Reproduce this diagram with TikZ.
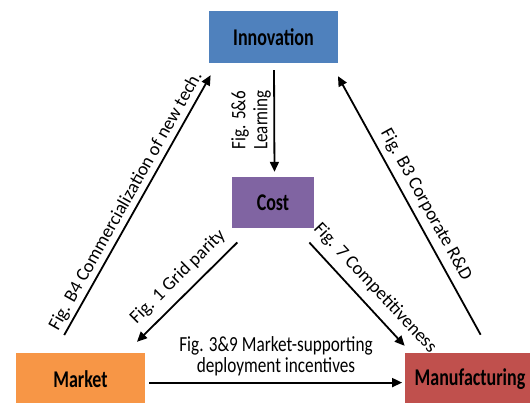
\documentclass[tikz,border=0pt]{standalone}
\usepackage{fontspec}
\usepackage{graphicx}
\setmainfont{Carlito}
\usetikzlibrary{arrows.meta}
\definecolor{innblue}{HTML}{4F81BD}
\definecolor{costpurple}{HTML}{8064A2}
\definecolor{mktorange}{HTML}{F79646}
\definecolor{mfgred}{HTML}{C0504D}
\newcommand{\boxtxt}[1]{\scalebox{0.75}[1]{\bfseries\fontsize{24}{26}\selectfont #1}}
\newcommand{\lbltxt}[1]{\scalebox{0.8}[1]{\fontsize{21.5}{21}\selectfont\begin{tabular}{@{}c@{}}#1\end{tabular}}}
\newcommand{\vlbltxt}[1]{\scalebox{0.83}[1]{\fontsize{20.5}{22}\selectfont\begin{tabular}{@{}c@{}}#1\end{tabular}}}
\newcommand{\dlbltxt}[1]{{\fontsize{18.6}{20}\selectfont #1}}
\begin{document}
\begin{tikzpicture}[x=1pt,y=-1pt,
  box/.style={draw=none, inner sep=0pt, text=black},
  lbl/.style={inner sep=0pt, text=black},
  arr/.style={line width=1.8pt, -{Triangle[length=10pt,width=9pt]}}]
\useasboundingbox (0,0) rectangle (530,403);
\clip (0,0) rectangle (530,403);

\node[box, fill=innblue, minimum width=129pt, minimum height=52pt] (inn) at (273.5,37) {\boxtxt{Innovation}};
\node[box, fill=costpurple, minimum width=82pt, minimum height=51pt] (cost) at (273,203) {\boxtxt{Cost}};
\node[box, fill=mktorange, minimum width=129pt, minimum height=52pt] (mkt) at (80.5,379) {\boxtxt{Market}};
\node[box, fill=mfgred, minimum width=130pt, minimum height=52pt] (mfg) at (470,379) {\boxtxt{Manufacturing}};

% Innovation -> Cost
\draw[arr, shorten <=7pt, shorten >=5.5pt] ([xshift=0.5pt]inn.south) -- ([xshift=1.5pt]cost.north);
% Market -> Innovation
\draw[arr, shorten <=20.4pt, shorten >=13.8pt] ([xshift=-26.3pt]mkt.north) -- ([xshift=-56.1pt]inn.south);
% Manufacturing -> Innovation
\draw[arr, shorten <=20.6pt, shorten >=14.8pt] ([xshift=20.6pt]mfg.north) -- ([xshift=57.3pt]inn.south);
% Cost -> Market
\draw[arr, shorten <=19.5pt, shorten >=15.6pt] ([xshift=-21.8pt]cost.south) -- ([xshift=45.4pt]mkt.north);
% Cost -> Manufacturing
\draw[arr, shorten <=18.8pt, shorten >=9.5pt] ([xshift=23.6pt]cost.south) -- ([xshift=-58.9pt]mfg.north);
% Market -> Manufacturing
\draw[arr, shorten <=4pt, shorten >=2.7pt] ([yshift=-3.6pt]mkt.east) -- ([yshift=-3.6pt]mfg.west);

\node[lbl, rotate=90] (learn) at (252,120) {\vlbltxt{Fig. 5\&6\\Learning}};
\node[lbl, rotate=60.6] (comm) at (126,201) {\dlbltxt{Fig. B4 Commercialization of new tech.}};
\node[lbl, rotate=-61.1] (rnd) at (426,205) {\dlbltxt{Fig. B3 Corporate R\&D}};
\node[lbl, rotate=44.8] (grid) at (178,277) {\dlbltxt{Fig. 1 Grid parity}};
\node[lbl, rotate=-46.8] (comp) at (375,288) {\dlbltxt{Fig. 7 Competitiveness}};
\node[lbl] (deploy) at (276,358) {\lbltxt{Fig. 3\&9 Market-supporting\\deployment incentives}};
\end{tikzpicture}
\end{document}
